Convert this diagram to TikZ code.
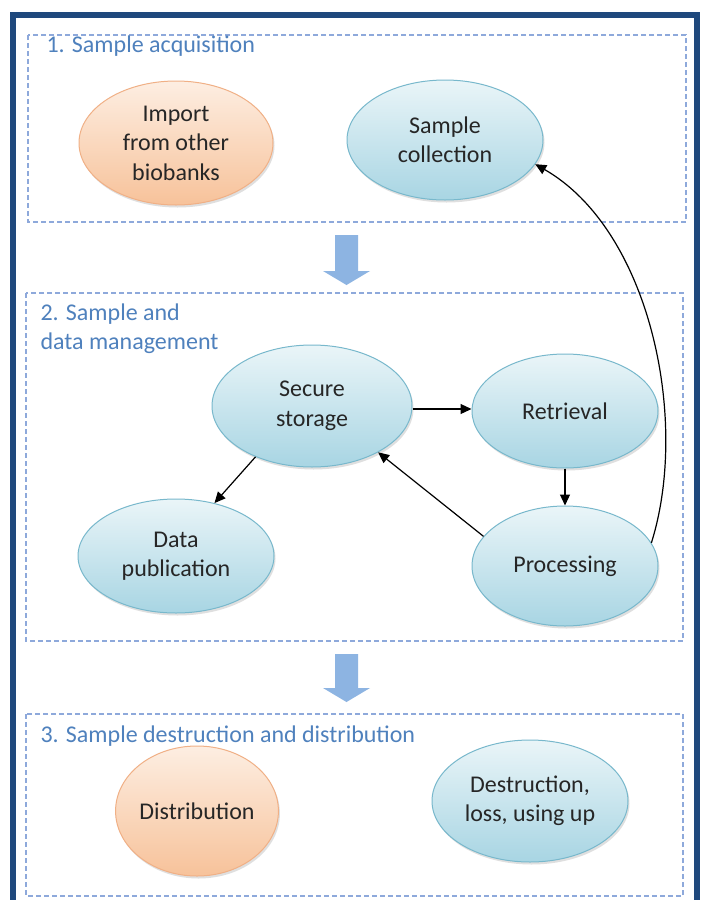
\documentclass[tikz,border=0pt]{standalone}
\usepackage{fontspec}
\setmainfont{Carlito}
\usetikzlibrary{arrows.meta,shapes.geometric,shadows}
\definecolor{framecol}{HTML}{1F497D}
\definecolor{dashcol}{HTML}{8EA9DB}
\definecolor{titlecol}{HTML}{4F81BD}
\definecolor{blockcol}{HTML}{8DB4E2}
\definecolor{bluetop}{HTML}{EAF5F8}
\definecolor{bluebot}{HTML}{A8D5E3}
\definecolor{blueedge}{HTML}{78B8CC}
\definecolor{orgtop}{HTML}{FDEEE2}
\definecolor{orgbot}{HTML}{F7C29A}
\definecolor{orgedge}{HTML}{F0B086}
\tikzset{
  x=1pt, y=-1pt,
  stage/.style={draw=dashcol, dashed, dash pattern=on 5pt off 3pt, line width=1.1pt},
  stagetitle/.style={anchor=west, text=titlecol, font=\fontsize{24}{29}\selectfont},
  oval/.style={ellipse, line width=1pt, minimum width=#1, align=center, inner sep=0pt,
    font=\fontsize{24}{29.5}\selectfont, text=black!85,
    drop shadow={shadow xshift=1.5pt, shadow yshift=-2.5pt, opacity=0.25}},
  blueoval/.style={oval=#1, draw=blueedge, top color=bluetop, bottom color=bluebot},
  orangeoval/.style={oval=#1, draw=orgedge, top color=orgtop, bottom color=orgbot},
  link/.style={-{Triangle[length=11pt,width=10pt]}, line width=1.2pt, black},
  blockarrow/.style={fill=blockcol, draw=none},
}
\begin{document}
\begin{tikzpicture}
\useasboundingbox (0,0) rectangle (706,900);
\fill[white] (0,0) rectangle (706,900);
% outer frame
\draw[framecol, line width=6pt] (13,15) -- (697,15) -- (697,920) -- (13,920) -- cycle;

% stage boxes
\draw[stage] (28,35) rectangle (686,222);
\draw[stage] (26,293) rectangle (683,641);
\draw[stage] (26,714) rectangle (683,896);

\node[stagetitle] (t1) at (43,46) {1. Sample acquisition};
\node[stagetitle] (t2a) at (37,314) {2. Sample and};
\node[stagetitle] (t2b) at (37,343) {data management};
\node[stagetitle] (t3) at (37,736) {3. Sample destruction and distribution};

% block arrows between stages
\fill[blockarrow] (335,235) -- (358,235) -- (358,271) -- (370,271) -- (346.5,285)
  -- (323,271) -- (335,271) -- cycle;
\fill[blockarrow] (335,654) -- (358,654) -- (358,688) -- (370,688) -- (346.5,702)
  -- (323,688) -- (335,688) -- cycle;

% stage 1
\node[orangeoval=194pt, minimum height=124pt] (import) at (176,143) {Import\\from other\\biobanks};
\node[blueoval=196pt, minimum height=120pt] (collect) at (445,140) {Sample\\collection};

% stage 2
\node[blueoval=200pt, minimum height=122pt] (store) at (312,406) {Secure\\storage};
\node[blueoval=186pt, minimum height=114pt] (retrieve) at (565,411) {Retrieval};
\node[blueoval=196pt, minimum height=114pt] (publish) at (176,556) {Data\\publication};
\node[blueoval=186pt, minimum height=120pt] (process) at (565,566) {Processing};

% stage 3
\node[orangeoval=160pt, minimum height=130pt] (distrib) at (197,811) {Distribution};
\node[blueoval=196pt, minimum height=122pt] (destroy) at (530,801) {Destruction,\\loss, using up};

% flow between steps
\draw[link] (store.east) ++(0,3) coordinate (se) -- (se -| retrieve.west);
\draw[link] (retrieve.south) -- (process.north);
\draw[link] (process.160) -- (store.-35);
\draw[link] (store.-138) -- (publish.54);
\draw[link] (process.15) .. controls (690,420) and (650,230) .. (collect.-15);
\end{tikzpicture}
\end{document}
